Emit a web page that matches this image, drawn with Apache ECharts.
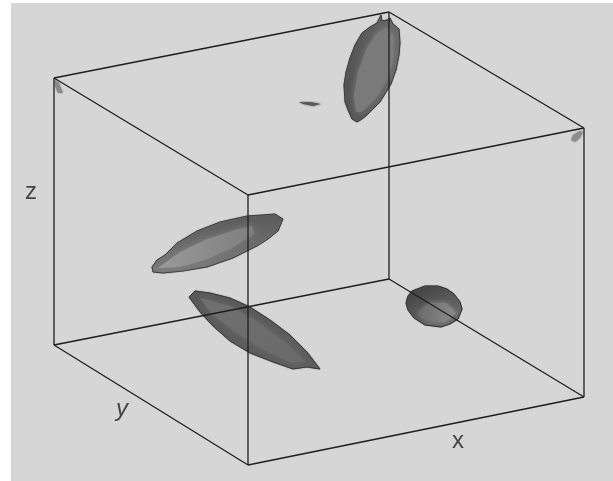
<!DOCTYPE html>
<html>
<head>
<meta charset="utf-8">
<style>
    html, body { margin: 0; padding: 0; background: #fff; }
    #main { width: 613px; height: 481px; }
</style>
<script src="https://cdn.jsdelivr.net/npm/echarts@6/dist/echarts.min.js"></script>
</head>
<body>
<div id="main"></div>
<script>
(function () {
    "use strict";

    // box corners, projected
    var backTopLeft = [54, 78], backTopRight = [389, 12], frontTopRight = [584, 128], frontTop = [248, 195];
    var backBottomLeft = [54, 345], backBottomRight = [389, 279], frontBottomRight = [584, 397], frontBottom = [248, 465];

    var boxEdges = [
        [backTopRight, backBottomRight],
        [backBottomLeft, backBottomRight],
        [backBottomRight, frontBottomRight],
        [backTopLeft, backTopRight],
        [backTopRight, frontTopRight],
        [frontTopRight, frontTop],
        [frontTop, backTopLeft],
        [backTopLeft, backBottomLeft],
        [frontTopRight, frontBottomRight],
        [frontTop, frontBottom],
        [backBottomLeft, frontBottom],
        [frontBottom, frontBottomRight]
    ];

    // blob outlines, then soft lighter patches on top of them
    var topBlob = [[377, 23], [381, 15], [382, 21], [387, 20], [390, 18], [393, 24], [399, 29], [400, 43], [399, 55], [396, 70], [391, 84], [380, 102], [367, 115], [362, 119], [357, 122], [352, 119], [348, 110], [345, 102], [344, 85], [346, 72], [350, 58], [355, 45], [362, 33], [370, 27]];
    var topPatch = [[386, 27], [394, 36], [394, 58], [387, 80], [376, 98], [362, 112], [356, 112], [354, 95], [358, 72], [366, 50], [376, 34]];
    var streak = [[299, 102], [310, 102], [321, 104], [313, 106], [303, 104]];
    var upperBlob = [[152, 267], [157, 260], [165, 255], [177, 243], [197, 231], [220, 222], [247, 216], [262, 215], [275, 214], [283, 219], [278, 231], [268, 239], [257, 246], [233, 258], [207, 267], [183, 271], [163, 273], [153, 272]];
    var upperPatch = [[158, 268], [180, 252], [205, 240], [235, 230], [252, 226], [254, 234], [232, 248], [205, 260], [180, 267]];
    var lowerBlob = [[189, 297], [195, 291], [210, 293], [230, 298], [250, 307], [270, 320], [290, 335], [307, 352], [320, 369], [307, 367], [293, 369], [273, 362], [250, 353], [230, 341], [213, 326], [200, 312]];
    var lowerPatch = [[200, 298], [230, 306], [258, 322], [285, 342], [306, 362], [290, 362], [262, 349], [235, 332], [212, 314]];
    var oval = [[406, 303], [408, 296], [412, 291], [425, 286], [438, 286], [447, 289], [454, 294], [460, 302], [462, 309], [458, 319], [450, 324], [441, 327], [425, 325], [414, 318], [408, 310]];
    var ovalPatch = [[418, 314], [430, 303], [446, 303], [456, 313], [445, 322], [430, 321]];
    var cornerLeft = [[55, 80], [59, 83], [63, 93], [58, 93], [55, 86]];
    var cornerRight = [[580, 131], [583, 132], [580, 138], [575, 142], [571, 140], [573, 135]];

    var blobShapes = [
        topBlob, topPatch, streak,
        upperBlob, upperPatch,
        lowerBlob, lowerPatch,
        oval, ovalPatch,
        cornerLeft, cornerRight
    ];
    // fill as [start colour, end colour, gradient x, gradient y], blur for the soft patches
    var blobFills = [
        ['#525252', '#6a6a6a', 1, 0], ['#7a7a7a', '#7a7a7a', 1, 0], ['#5a5a5a', '#5a5a5a', 1, 0],
        ['#5a5a5a', '#7c7c7c', 0, 1], ['#9a9a9a', '#7e7e7e', 1, 0],
        ['#585858', '#5e5e5e', 0, 1], ['#707070', '#6a6a6a', 1, 1],
        ['#3c3c3c', '#686868', 0.4, 1], ['#6a6a6a', '#8a8a8a', 1, 0.5],
        ['#8a8a8a', '#8a8a8a', 0, 1], ['#8c8c8c', '#8c8c8c', 0, 1]
    ];
    var blobRims = ['#3c3c3c', null, null, '#3e3e3e', null, '#3a3a3a', null, '#2e2e2e', null, null, null];
    var blobBlurs = [1, 6, 2, 1, 6, 1, 6, 1, 5, 2, 2];

    var axisLetters = ['z', 'y', 'x'];
    var letterPoints = [[31, 192], [122, 409], [458, 441]];
    var letterStyles = ['normal', 'italic', 'normal'];

    function renderBlob(params, api) {
        var i = params.dataIndex;
        var fill = blobFills[i];
        var points = blobShapes[i].map(function (p) {
            return api.coord(p);
        });
        return {
            type: 'polygon',
            shape: { points: points },
            style: {
                fill: new echarts.graphic.LinearGradient(0, 0, fill[2], fill[3], [
                    { offset: 0, color: fill[0] },
                    { offset: 1, color: fill[1] }
                ]),
                stroke: blobRims[i],
                lineWidth: blobRims[i] ? 1 : 0,
                shadowBlur: blobBlurs[i],
                shadowColor: fill[1]
            }
        };
    }

    var chart = echarts.init(document.getElementById('main'));
    chart.setOption({
        animation: false,
        backgroundColor: '#ffffff',
        grid: {
            show: true,
            left: 11,
            top: 3,
            right: 0,
            bottom: 0,
            borderWidth: 0,
            backgroundColor: '#d6d6d6'
        },
        xAxis: { type: 'value', min: 11, max: 613, show: false },
        yAxis: { type: 'value', min: 3, max: 481, inverse: true, show: false },
        series: [{
            type: 'custom',
            renderItem: renderBlob,
            data: blobShapes.map(function (s, i) { return [s[0][0], s[0][1], i]; }),
            silent: true,
            z: 2
        }].concat(
            boxEdges.map(function (edge) {
                return {
                    type: 'line',
                    data: edge,
                    symbol: 'none',
                    silent: true,
                    z: 5,
                    lineStyle: { color: '#1e1e1e', width: 1.3 }
                };
            }),
            [{
                type: 'scatter',
                symbolSize: 0,
                silent: true,
                z: 6,
                data: letterPoints.map(function (p, i) {
                    return {
                        value: p,
                        name: axisLetters[i],
                        label: { fontStyle: letterStyles[i] }
                    };
                }),
                label: {
                    show: true,
                    position: 'inside',
                    formatter: '{b}',
                    fontFamily: 'Liberation Sans',
                    fontSize: 24,
                    color: '#1e1e1e'
                }
            }]
        )
    });
}());
</script>
</body>
</html>
